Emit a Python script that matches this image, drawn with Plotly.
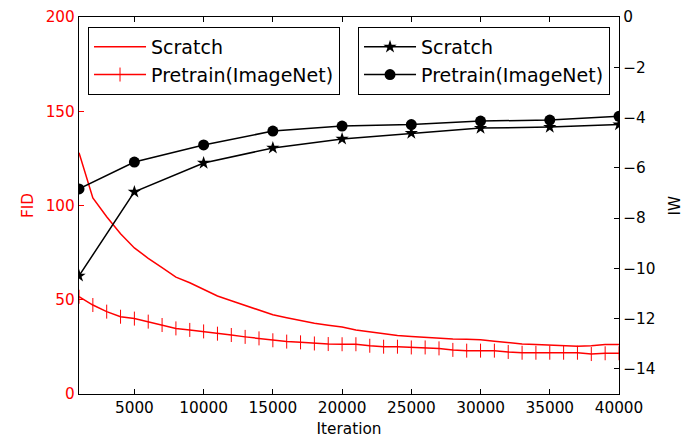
import plotly.graph_objects as go

iters = list(range(1000, 41000, 1000))
fid_scratch = [128, 104, 94, 85, 77.5, 72, 67, 62, 59, 55.5,
               52, 49.5, 47, 44.5, 42, 40.5, 39, 37.5, 36.5, 35.5,
               34, 33, 32, 31, 30.5, 30, 29.5, 29.2, 29, 28.8,
               28, 27.2, 26.5, 26.2, 26, 25.8, 25.3, 25.6, 26.2, 26.2]
fid_pretrain = [51.6, 47.2, 43.7, 41, 40, 38.4, 36.6, 34.8, 34, 33.2,
                32, 31.3, 30.3, 29.5, 28.5, 27.8, 27.4, 26.8, 26.5, 26.4,
                26.4, 25.6, 25.1, 25.1, 24.7, 24.7, 24.2, 23.4, 23, 23,
                23, 22.3, 21.9, 21.9, 21.9, 21.9, 21.9, 21.2, 21.6, 21.6]

iw_iters = [1000, 5000, 10000, 15000, 20000, 25000, 30000, 35000, 40000]
iw_scratch = [-10.3, -6.96, -5.81, -5.21, -4.85, -4.62, -4.42, -4.38, -4.28]
iw_pretrain = [-6.84, -5.77, -5.09, -4.54, -4.34, -4.28, -4.14, -4.1, -3.95]

x_ticks = [5000, 10000, 15000, 20000, 25000, 30000, 35000, 40000]

RED = "#ff0000"
FONT = "DejaVu Sans"

fig = go.Figure()
fig.add_trace(go.Scatter(x=iters, y=fid_scratch, name="Scratch", mode="lines",
                         line=dict(color=RED, width=1.5), legend="legend"))
fig.add_trace(go.Scatter(x=iters, y=fid_pretrain, name="Pretrain(ImageNet)", mode="lines+markers",
                         line=dict(color=RED, width=1.5),
                         marker=dict(symbol="line-ns", size=10, color=RED,
                                     line=dict(color=RED, width=1)),
                         legend="legend"))
fig.add_trace(go.Scatter(x=iw_iters, y=iw_scratch, name="Scratch", mode="lines+markers",
                         yaxis="y2", line=dict(color="black", width=1.5),
                         marker=dict(symbol="star", size=10, color="black"),
                         legend="legend2"))
fig.add_trace(go.Scatter(x=iw_iters, y=iw_pretrain, name="Pretrain(ImageNet)", mode="lines+markers",
                         yaxis="y2", line=dict(color="black", width=1.5),
                         marker=dict(symbol="circle", size=11, color="black"),
                         legend="legend2"))

fig.update_layout(
    width=684, height=438,
    margin=dict(l=79, r=65, t=17, b=44),
    paper_bgcolor="white", plot_bgcolor="white",
    font=dict(family=FONT, size=15.3, color="black"),
    showlegend=True,
    xaxis=dict(range=[1000, 40000], tickvals=x_ticks, tickformat="d", ticks="inside", ticklen=5,
               tickcolor="black", showline=True, linecolor="black", linewidth=1.2,
               mirror="ticks", showgrid=False, zeroline=False, automargin=False,
               title=dict(text="Iteration", font=dict(size=15.3), standoff=9)),
    yaxis=dict(range=[0, 200], dtick=50, ticks="inside", ticklen=5, tickcolor=RED,
               tickfont=dict(color=RED), showline=True, linecolor="black", linewidth=1.2,
               showgrid=False, zeroline=False, automargin=False,
               title=dict(text="FID", font=dict(color=RED, size=15.3), standoff=8)),
    yaxis2=dict(range=[-15, 0], dtick=2, overlaying="y", side="right", ticks="inside",
                ticklen=5, tickcolor="black", showline=True, linecolor="black", linewidth=1.2,
                showgrid=False, zeroline=False, automargin=False),
    annotations=[dict(text="IW", xref="paper", yref="paper", x=1.1037, y=0.5,
                      xanchor="center", yanchor="middle", textangle=-90, showarrow=False,
                      font=dict(size=15.3, color="black", family=FONT))],
    legend=dict(x=0.0167, y=0.9735, xanchor="left", yanchor="top",
                bordercolor="black", borderwidth=1, bgcolor="white",
                font=dict(size=19, family=FONT), itemwidth=52, tracegroupgap=0),
    legend2=dict(x=0.5167, y=0.9735, xanchor="left", yanchor="top",
                 bordercolor="black", borderwidth=1, bgcolor="white",
                 font=dict(size=19, family=FONT), itemwidth=52, tracegroupgap=0),
)

fig.write_html("out.html", config={"displayModeBar": False},
               post_script="document.body.style.margin='0';")
